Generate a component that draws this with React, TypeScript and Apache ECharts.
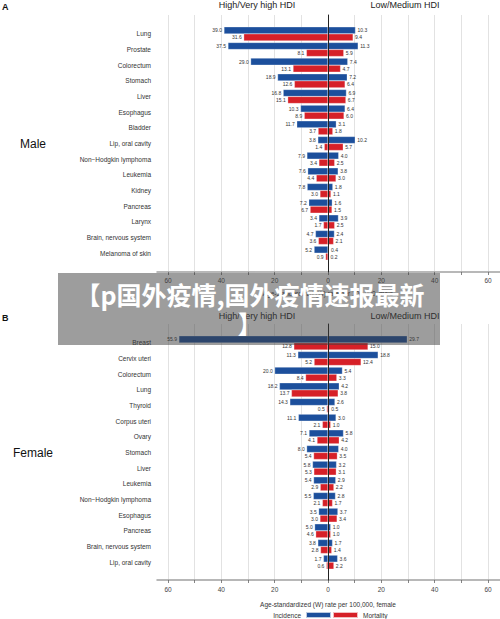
import React, { useEffect, useRef } from "react";
import * as echarts from "echarts";

// ---------- Data ----------
const maleCategories = [
  "Lung", "Prostate", "Colorectum", "Stomach", "Liver", "Esophagus", "Bladder",
  "Lip, oral cavity", "Non\u2212Hodgkin lymphoma", "Leukemia", "Kidney", "Pancreas",
  "Larynx", "Brain, nervous system", "Melanoma of skin",
];
const maleHighIncidence = [39.0, 37.5, 29.0, 18.9, 16.8, 10.3, 11.7, 3.8, 7.9, 7.6, 7.8, 7.2, 3.4, 4.7, 5.2];
const maleHighMortality = [31.6, 8.1, 13.1, 12.6, 15.1, 8.9, 3.7, 1.4, 3.4, 4.4, 3.0, 6.7, 1.7, 3.6, 0.9];
const maleLowIncidence = [10.3, 11.3, 7.4, 7.2, 6.9, 6.4, 3.1, 10.2, 4.0, 3.8, 1.8, 1.6, 3.9, 2.4, 0.4];
const maleLowMortality = [9.4, 5.9, 4.7, 6.4, 6.7, 6.0, 1.8, 5.7, 2.5, 3.0, 1.1, 1.5, 2.5, 2.1, 0.2];

const femaleCategories = [
  "Breast", "Cervix uteri", "Colorectum", "Lung", "Thyroid", "Corpus uteri", "Ovary",
  "Stomach", "Liver", "Leukemia", "Non\u2212Hodgkin lymphoma", "Esophagus", "Pancreas",
  "Brain, nervous system", "Lip, oral cavity",
];
const femaleHighIncidence = [55.9, 11.3, 20.0, 18.2, 14.3, 11.1, 7.1, 8.0, 5.8, 5.4, 5.5, 3.5, 5.0, 3.8, 1.7];
const femaleHighMortality = [12.8, 5.2, 8.4, 13.7, 0.5, 2.1, 4.1, 5.4, 5.3, 2.9, 2.1, 3.0, 4.6, 2.8, 0.6];
const femaleLowIncidence = [29.7, 18.8, 5.4, 4.2, 2.6, 3.0, 5.8, 4.0, 3.2, 2.9, 2.8, 3.7, 1.0, 1.7, 3.6];
const femaleLowMortality = [15.0, 12.4, 3.3, 3.8, 0.5, 1.0, 4.2, 3.5, 3.1, 2.2, 1.7, 3.4, 1.0, 1.4, 2.2];

const axisMin = -60;
const axisMax = 60;
const axisInterval = 10;
const axisLineExtent = 64.4;

const BLUE = "#1c4f9c";
const RED = "#d62028";
const FONT = "'Liberation Sans', Arial, Helvetica, sans-serif";

function panelSeries(idx: number, hiInc: number[], hiMort: number[], loInc: number[], loMort: number[]) {
  const lab = (pos: string) => ({
    show: true,
    position: pos,
    distance: 2,
    fontSize: 5,
    color: "#333",
    fontFamily: FONT,
    formatter: (p: any) => Math.abs(p.value).toFixed(1),
  });
  const base = {
    type: "bar",
    xAxisIndex: idx,
    yAxisIndex: idx,
    barWidth: 7,
    barGap: "0%",
    silent: true,
  };
  const blue = { color: BLUE, borderColor: "rgba(255,255,255,0.7)", borderWidth: 0.4 };
  const red = { color: RED, borderColor: "rgba(255,255,255,0.7)", borderWidth: 0.4 };
  return [
    { ...base, name: "Incidence", stack: "inc" + idx, data: hiInc.map((v) => -v), itemStyle: blue, label: lab("left") },
    { ...base, name: "Mortality", stack: "mort" + idx, data: hiMort.map((v) => -v), itemStyle: red, label: lab("left") },
    { ...base, name: "Incidence", stack: "inc" + idx, data: loInc, itemStyle: blue, label: lab("right") },
    { ...base, name: "Mortality", stack: "mort" + idx, data: loMort, itemStyle: red, label: lab("right") },
  ];
}

function frameX(idx: number, name: string, labelMargin: number, nameGap: number) {
  return {
    type: "value",
    gridIndex: idx,
    min: axisMin,
    max: axisMax,
    interval: axisInterval,
    position: "bottom",
    axisLine: { show: false },
    axisTick: { show: true, length: 3, lineStyle: { color: "#666", width: 0.8 } },
    axisLabel: {
      fontSize: 6.5,
      color: "#444",
      margin: labelMargin,
      fontFamily: FONT,
      formatter: (v: number) => (v % 20 === 0 ? String(Math.abs(v)) : ""),
    },
    splitLine: { show: true, lineStyle: { color: "#e2e2e2", width: 1 } },
    name,
    nameLocation: "middle",
    nameGap,
    nameTextStyle: { fontSize: 6.5, color: "#333", fontFamily: FONT },
  };
}
function frameY(idx: number) {
  return {
    type: "value",
    gridIndex: idx,
    min: 0,
    max: 1,
    z: 5,
    axisLine: { show: true, onZero: true, lineStyle: { color: "#222", width: 1 } },
    axisTick: { show: false },
    axisLabel: { show: false },
    splitLine: { show: false },
  };
}
function lineX(idx: number) {
  return {
    type: "value",
    gridIndex: idx,
    min: -axisLineExtent,
    max: axisLineExtent,
    axisLine: { show: true, onZero: false, lineStyle: { color: "#a0a0a0", width: 1.5 } },
    axisTick: { show: false },
    axisLabel: { show: false },
    splitLine: { show: false },
  };
}
function hiddenY(idx: number) {
  return { type: "value", gridIndex: idx, show: false };
}
function barsX(idx: number) {
  return { type: "value", gridIndex: idx, min: axisMin, max: axisMax, show: false };
}
function barsY(idx: number, cats: string[]) {
  return {
    type: "category",
    gridIndex: idx,
    data: cats,
    inverse: true,
    axisLine: { show: false },
    axisTick: { show: false },
    splitLine: { show: false },
    axisLabel: { fontSize: 6.5, color: "#333", margin: 17, fontFamily: FONT },
  };
}

export default function App() {
  const ref = useRef<HTMLDivElement>(null);
  useEffect(() => {
    document.body.style.margin = "0";
    const chart = echarts.init(ref.current!, null, { renderer: "svg" });
    const option: any = {
      animation: false,
      backgroundColor: "#fff",
      textStyle: { fontFamily: FONT },
      grid: [
        { left: 168, top: 15, width: 320, height: 257 },
        { left: 157, top: 15, width: 343, height: 257 },
        { left: 168, top: 26, width: 320, height: 235 },
        { left: 168, top: 324, width: 320, height: 256 },
        { left: 157, top: 324, width: 343, height: 256 },
        { left: 168, top: 335, width: 320, height: 235 },
      ],
      xAxis: [
        frameX(0, "Age-standardized (W) rate per 100,000, male", 5, 18),
        lineX(1),
        barsX(2),
        frameX(3, "Age-standardized (W) rate per 100,000, female", 6, 21),
        lineX(4),
        barsX(5),
      ],
      yAxis: [
        frameY(0),
        hiddenY(1),
        barsY(2, maleCategories),
        frameY(3),
        hiddenY(4),
        barsY(5, femaleCategories),
      ],
      legend: [
        {
          data: ["Incidence"],
          right: 168,
          top: 611,
          align: "right",
          padding: 0,
          itemWidth: 25,
          itemHeight: 6,
          icon: "rect",
          selectedMode: false,
          textStyle: { fontSize: 6.5, color: "#333", fontFamily: FONT },
        },
        {
          data: ["Mortality"],
          left: 332,
          top: 611,
          align: "left",
          padding: 0,
          itemWidth: 25,
          itemHeight: 6,
          icon: "rect",
          selectedMode: false,
          textStyle: { fontSize: 6.5, color: "#333", fontFamily: FONT },
        },
      ],
      series: [
        ...panelSeries(2, maleHighIncidence, maleHighMortality, maleLowIncidence, maleLowMortality),
        ...panelSeries(5, femaleHighIncidence, femaleHighMortality, femaleLowIncidence, femaleLowMortality),
      ],
      graphic: [
        { type: "text", x: 2, y: 2, style: { text: "A", fontSize: 9, fontWeight: "bold", fill: "#111", fontFamily: FONT } },
        { type: "text", x: 2, y: 313, style: { text: "B", fontSize: 9, fontWeight: "bold", fill: "#111", fontFamily: FONT } },
        { type: "text", x: 257, y: 5, style: { text: "High/Very high HDI", fontSize: 9, fill: "#222", fontFamily: FONT, textAlign: "center", textVerticalAlign: "middle" } },
        { type: "text", x: 405, y: 5, style: { text: "Low/Medium HDI", fontSize: 9, fill: "#222", fontFamily: FONT, textAlign: "center", textVerticalAlign: "middle" } },
        { type: "text", x: 257, y: 316, style: { text: "High/Very high HDI", fontSize: 9, fill: "#222", fontFamily: FONT, textAlign: "center", textVerticalAlign: "middle" } },
        { type: "text", x: 405, y: 316, style: { text: "Low/Medium HDI", fontSize: 9, fill: "#222", fontFamily: FONT, textAlign: "center", textVerticalAlign: "middle" } },
        { type: "text", x: 33, y: 144, style: { text: "Male", fontSize: 12, fill: "#111", fontFamily: FONT, textAlign: "center", textVerticalAlign: "middle" } },
        { type: "text", x: 33, y: 453, style: { text: "Female", fontSize: 12, fill: "#111", fontFamily: FONT, textAlign: "center", textVerticalAlign: "middle" } },
        {
          type: "rect",
          z: 100,
          shape: { x: 58, y: 273, width: 382, height: 72 },
          style: { fill: "rgba(60,60,60,0.5)" },
        },
        {
          type: "text",
          z: 101,
          x: 250,
          y: 279,
          style: {
            text: "\u3010p\u56fd\u5916\u75ab\u60c5,\u56fd\u5916\u75ab\u60c5\u901f\u62a5\u6700\u65b0\n\u3011",
            fontSize: 25,
            lineHeight: 29,
            fontWeight: "bold",
            fill: "#fff",
            fontFamily: "'Noto Sans CJK SC', sans-serif",
            textAlign: "center",
          },
        },
      ],
    };
    chart.setOption(option);
    return () => chart.dispose();
  }, []);
  return <div ref={ref} style={{ position: "absolute", left: 0, top: 0, width: 500, height: 619 }} />;
}
